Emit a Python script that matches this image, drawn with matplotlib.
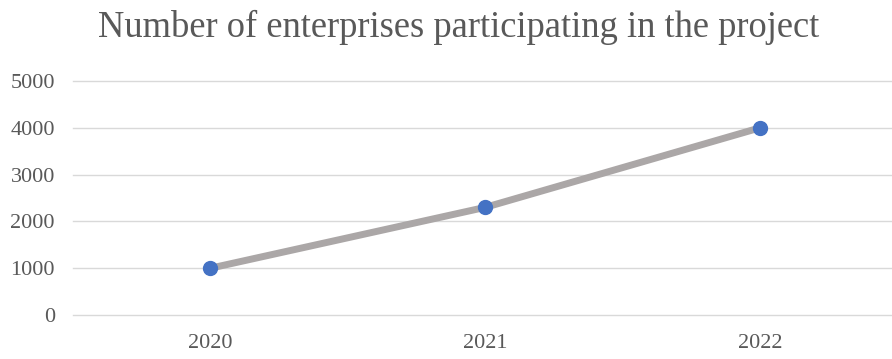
import matplotlib
matplotlib.use("Agg")
import matplotlib.pyplot as plt

years = ["2020", "2021", "2022"]
counts = [1000, 2300, 4000]
yticks = [0, 1000, 2000, 3000, 4000, 5000]

plt.rcParams['font.family'] = ['Liberation Serif', 'DejaVu Serif']

fig = plt.figure(figsize=(8.92, 3.59), dpi=100)
ax = fig.add_axes([73/892, 44/359, 1 - 73/892, 234/359])

x = list(range(len(years)))
ax.plot(x, counts, color='#ABA7A7', linewidth=5, solid_capstyle='butt', zorder=2)
ax.plot(x, counts, linestyle='none', marker='o', markersize=10,
        markerfacecolor='#4472C4', markeredgecolor='#4472C4', zorder=3)

ax.set_xlim(-0.5, 2.48)
ax.set_ylim(0, 5000)
ax.set_yticks(yticks)
ax.set_xticks(x)
ax.set_xticklabels(years)
ax.grid(axis='y', color='#D9D9D9', linewidth=1)
for gl in ax.get_ygridlines():
    gl.set_clip_on(False)
ax.set_axisbelow(True)
for s in ax.spines.values():
    s.set_visible(False)
ax.tick_params(length=0, labelsize=16, colors='#595959')
ax.tick_params(axis='y', pad=13)
ax.tick_params(axis='x', pad=14)

fig.text(0.514, 1 - 37/359, "Number of enterprises participating in the project",
         ha='center', va='baseline', fontsize=26.3, color='#595959')

fig.savefig("out.png", dpi=100)
